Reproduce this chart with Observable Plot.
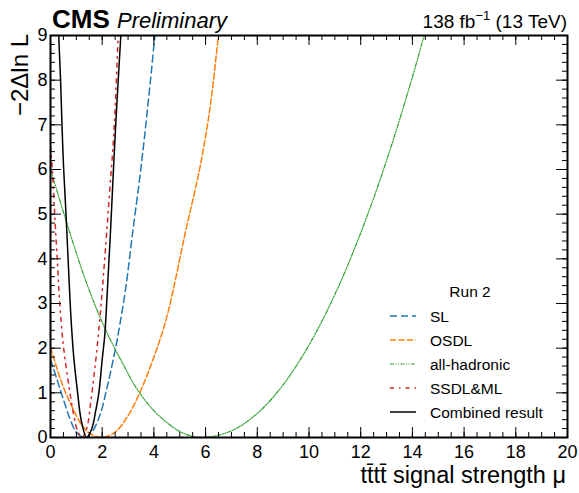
<!DOCTYPE html>
<html><head><meta charset="utf-8">
<script src="https://cdn.jsdelivr.net/npm/d3@7"></script>
<script src="https://cdn.jsdelivr.net/npm/@observablehq/plot@0.6"></script>
<style>
body{margin:0;background:#fff}
#chart{position:relative;width:579px;height:493px}
</style>
</head><body><div id="chart"></div>
<script>
// ---- data (mu, -2 Delta ln L) ----
const slMu   = [0, 0.25, 0.5, 0.75, 1.0, 1.3, 1.55, 1.9, 2.2, 2.5, 2.62, 2.9, 3.18, 3.45, 3.65, 3.85, 4.04, 4.2];
const slQ    = [1.75, 1.3, 0.85, 0.42, 0.12, 0, 0.08, 0.48, 1.15, 1.95, 2.32, 3.3, 4.6, 5.8, 6.8, 7.9, 9.0, 9.9];
const osdlMu = [0, 0.45, 0.84, 1.22, 1.55, 2.0, 2.5, 2.97, 3.45, 4.0, 4.5, 5.22, 5.8, 6.2, 6.5, 6.7];
const osdlQ  = [2.02, 1.2, 0.68, 0.27, 0.08, 0, 0.12, 0.46, 1.0, 1.8, 2.7, 4.6, 6.1, 7.5, 9.0, 9.8];
const hadMu  = [0, 0.74, 1.4, 2.1, 2.8, 3.35, 4.0, 4.6, 5.2, 5.9, 7.0, 8.0, 9.0, 10.0, 11.0, 12.0, 13.0, 14.0, 14.45, 14.8];
const hadQ   = [6.0, 4.6, 3.45, 2.45, 1.65, 1.08, 0.6, 0.29, 0.08, 0, 0.15, 0.54, 1.18, 2.07, 3.2, 4.58, 6.2, 8.07, 9.0, 9.8];
const ssdlMu = [0, 0.07, 0.19, 0.26, 0.36, 0.5, 0.7, 0.9, 1.05, 1.22, 1.4, 1.57, 1.8, 1.96, 2.15, 2.3, 2.45, 2.62, 2.7];
const ssdlQ  = [6.5, 6.0, 4.7, 4.0, 3.0, 2.05, 1.2, 0.5, 0.15, 0, 0.2, 0.85, 2.0, 3.0, 4.4, 5.6, 6.8, 9.0, 10.0];
const combMu = [0.28, 0.32, 0.39, 0.45, 0.51, 0.6, 0.68, 0.8, 0.9, 1.03, 1.2, 1.4, 1.6, 1.75, 1.87, 2.0, 2.1, 2.2, 2.32, 2.51, 2.72, 2.8];
const combQ  = [10, 9, 8, 6.9, 6.0, 5.0, 4.0, 2.6, 1.8, 1.1, 0.35, 0, 0.2, 0.6, 1.0, 1.75, 2.3, 3.3, 4.6, 6.87, 9.0, 9.9];

const seriesNames  = ["SL", "OSDL", "all-hadronic", "SSDL&ML", "Combined result"];
const seriesColors = ["#1f77b4", "#ff7f0e", "#2ca02c", "#d62728", "#000000"];
const seriesDash   = ["7,4", "6,2.5", "4,1.5,1,1.5,1,1.5", "4,5,1.5,5", null];
const seriesWidth  = [1.5, 1.5, 1.2, 1.5, 1.5];

const xTickLabels = [0, 2, 4, 6, 8, 10, 12, 14, 16, 18, 20];
const yTickLabels = [0, 1, 2, 3, 4, 5, 6, 7, 8, 9];

const seriesData = [[slMu, slQ], [osdlMu, osdlQ], [hadMu, hadQ], [ssdlMu, ssdlQ], [combMu, combQ]];

// ---- layout ----
const W = 579, H = 493, mL = 50, mR = 12, mT = 35, mB = 56;
const plotW = W - mL - mR, plotH = H - mT - mB;
const font = "'Liberation Sans', Arial, Helvetica, sans-serif";

const xMinor = d3.range(0, 20.001, 0.5);
const yMinor = d3.range(0, 9.001, 0.2).map(d => +d.toFixed(2));

const lineMarks = seriesData.map(([mu, q], i) => {
  const rows = mu.map((m, j) => ({mu: m, q: q[j]}));
  return Plot.line(rows, {
    x: "mu", y: "q", stroke: seriesColors[i], strokeWidth: seriesWidth[i],
    strokeDasharray: seriesDash[i] || undefined, curve: "catmull-rom", clip: true
  });
});

const svg = Plot.plot({
  width: W, height: H,
  marginLeft: mL, marginRight: mR, marginTop: mT, marginBottom: mB,
  style: {fontFamily: font, fontSize: "18px", color: "#000", background: "#fff", overflow: "visible"},
  x: {domain: [0, 20]},
  y: {domain: [0, 9]},
  marks: [
    ...lineMarks,
    // minor ticks (inward, all four sides)
    Plot.tickX(xMinor, {x: d => d, insetTop: plotH - 5, stroke: "#000"}),
    Plot.tickX(xMinor, {x: d => d, insetBottom: plotH - 5, stroke: "#000"}),
    Plot.tickY(yMinor, {y: d => d, insetRight: plotW - 5, stroke: "#000"}),
    Plot.tickY(yMinor, {y: d => d, insetLeft: plotW - 5, stroke: "#000"}),
    // major ticks
    Plot.tickX(xTickLabels, {x: d => d, insetTop: plotH - 10, stroke: "#000"}),
    Plot.tickX(xTickLabels, {x: d => d, insetBottom: plotH - 10, stroke: "#000"}),
    Plot.tickY(yTickLabels, {y: d => d, insetRight: plotW - 11, stroke: "#000"}),
    Plot.tickY(yTickLabels, {y: d => d, insetLeft: plotW - 11, stroke: "#000"}),
    Plot.axisX(xTickLabels, {tickSize: 0, tickPadding: 8, label: null, fontSize: 18}),
    Plot.axisY(yTickLabels, {tickSize: 0, tickPadding: 3, label: null, fontSize: 18}),
    Plot.frame({stroke: "#000", strokeWidth: 2})
  ]
});

const s = d3.select(svg);
// header
s.append("text").attr("x", 52).attr("y", 28).attr("text-anchor", "start").attr("font-family", font)
  .attr("font-weight", "bold").attr("font-size", 26).text("CMS");
s.append("text").attr("x", 117).attr("y", 28).attr("text-anchor", "start").attr("font-family", font)
  .attr("font-style", "italic").attr("font-size", 22).text("Preliminary");
const lumi = s.append("text").attr("x", 567).attr("y", 28).attr("text-anchor", "end")
  .attr("font-family", font).attr("font-size", 19);
lumi.append("tspan").text("138 fb");
lumi.append("tspan").attr("font-size", 13).attr("dy", -8).text("\u22121");
lumi.append("tspan").attr("dy", 8).text(" (13 TeV)");
// axis titles
s.append("text").attr("x", 566).attr("y", 483).attr("text-anchor", "end")
  .attr("font-family", font).attr("font-size", 23.5).text("tt\u0304tt\u0304 signal strength \u03bc");
s.append("text").attr("transform", "translate(28,34) rotate(-90)").attr("text-anchor", "end")
  .attr("font-family", font).attr("font-size", 24).text("\u22122\u0394ln L");

// legend
const lg = s.append("g").attr("font-family", font).attr("font-size", 15.5);
lg.append("text").attr("x", 470).attr("y", 297).attr("text-anchor", "middle").text("Run 2");
seriesNames.forEach((name, i) => {
  const y = 322 + i * 24;
  lg.append("line").attr("x1", 390).attr("x2", 416).attr("y1", y - 6).attr("y2", y - 6)
    .attr("stroke", seriesColors[i]).attr("stroke-width", seriesWidth[i])
    .attr("stroke-dasharray", seriesDash[i]);
  lg.append("text").attr("x", 430).attr("y", y).attr("text-anchor", "start").text(name);
});

document.getElementById("chart").appendChild(svg);
</script>
</body></html>
